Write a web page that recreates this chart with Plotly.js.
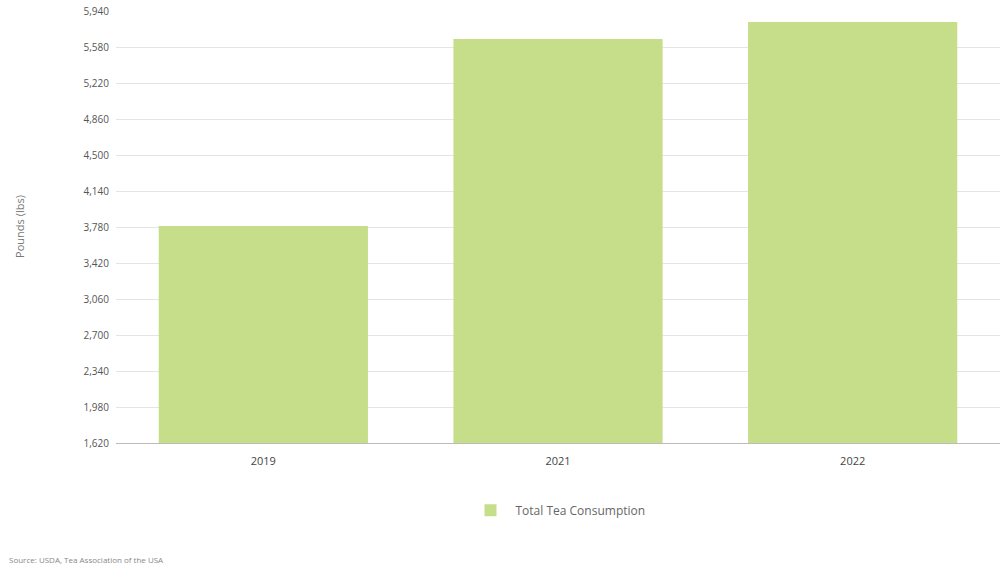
<!DOCTYPE html>
<html>
<head>
<meta charset="utf-8">
<script src="https://cdn.plot.ly/plotly-3.0.1.min.js"></script>
<style>
  html, body { margin: 0; padding: 0; background: #ffffff; }
  #chart { width: 1000px; height: 569px; }
</style>
</head>
<body>
<div id="chart"></div>
<script>
const years = ["2019", "2021", "2022"];
const consumption = [3790, 5660, 5830];
const tickValues = [1620, 1980, 2340, 2700, 3060, 3420, 3780, 4140, 4500, 4860, 5220, 5580, 5940];
const tickLabels = ["1,620", "1,980", "2,340", "2,700", "3,060", "3,420", "3,780", "4,140", "4,500", "4,860", "5,220", "5,580", "5,940"];
const seriesName = "Total Tea Consumption";
const yTitle = "Pounds (lbs)";
const sourceText = "Source: USDA, Tea Association of the USA";

const trace = {
  type: "bar",
  x: years,
  y: consumption,
  name: seriesName,
  marker: { color: "#c6de8a" },
  hoverinfo: "x+y"
};

const layout = {
  width: 1000,
  height: 569,
  margin: { l: 116, r: 0, t: 10, b: 126 },
  paper_bgcolor: "#ffffff",
  plot_bgcolor: "#ffffff",
  bargap: 0.29,
  font: { family: "Open Sans, Arial, sans-serif", color: "#555555", size: 10 },
  xaxis: {
    type: "category",
    showgrid: false,
    showline: true,
    linecolor: "#bbbbbb",
    linewidth: 1,
    ticks: "",
    tickfont: { size: 11, color: "#444444" },
    ticklabelstandoff: 8
  },
  yaxis: {
    range: [1620, 5950],
    tickvals: tickValues,
    ticktext: tickLabels,
    showgrid: true,
    gridcolor: "#e4e4e4",
    gridwidth: 1,
    zeroline: false,
    showline: false,
    ticks: "",
    tickfont: { size: 10, color: "#555555" },
    ticklabelstandoff: 6,
    title: { text: yTitle, font: { size: 11, color: "#777777" }, standoff: 56 }
  },
  showlegend: true,
  legend: {
    orientation: "h",
    x: 0.5,
    xanchor: "center",
    y: -0.122,
    yanchor: "top",
    font: { size: 12, color: "#666666" },
    itemwidth: 40
  },
  annotations: [{
    xref: "paper", yref: "paper",
    x: -0.123, y: -0.27,
    xanchor: "left", yanchor: "middle",
    showarrow: false,
    text: sourceText,
    font: { size: 8, color: "#888888" }
  }]
};

Plotly.newPlot("chart", [trace], layout, { displayModeBar: false, staticPlot: true });
</script>
</body>
</html>
